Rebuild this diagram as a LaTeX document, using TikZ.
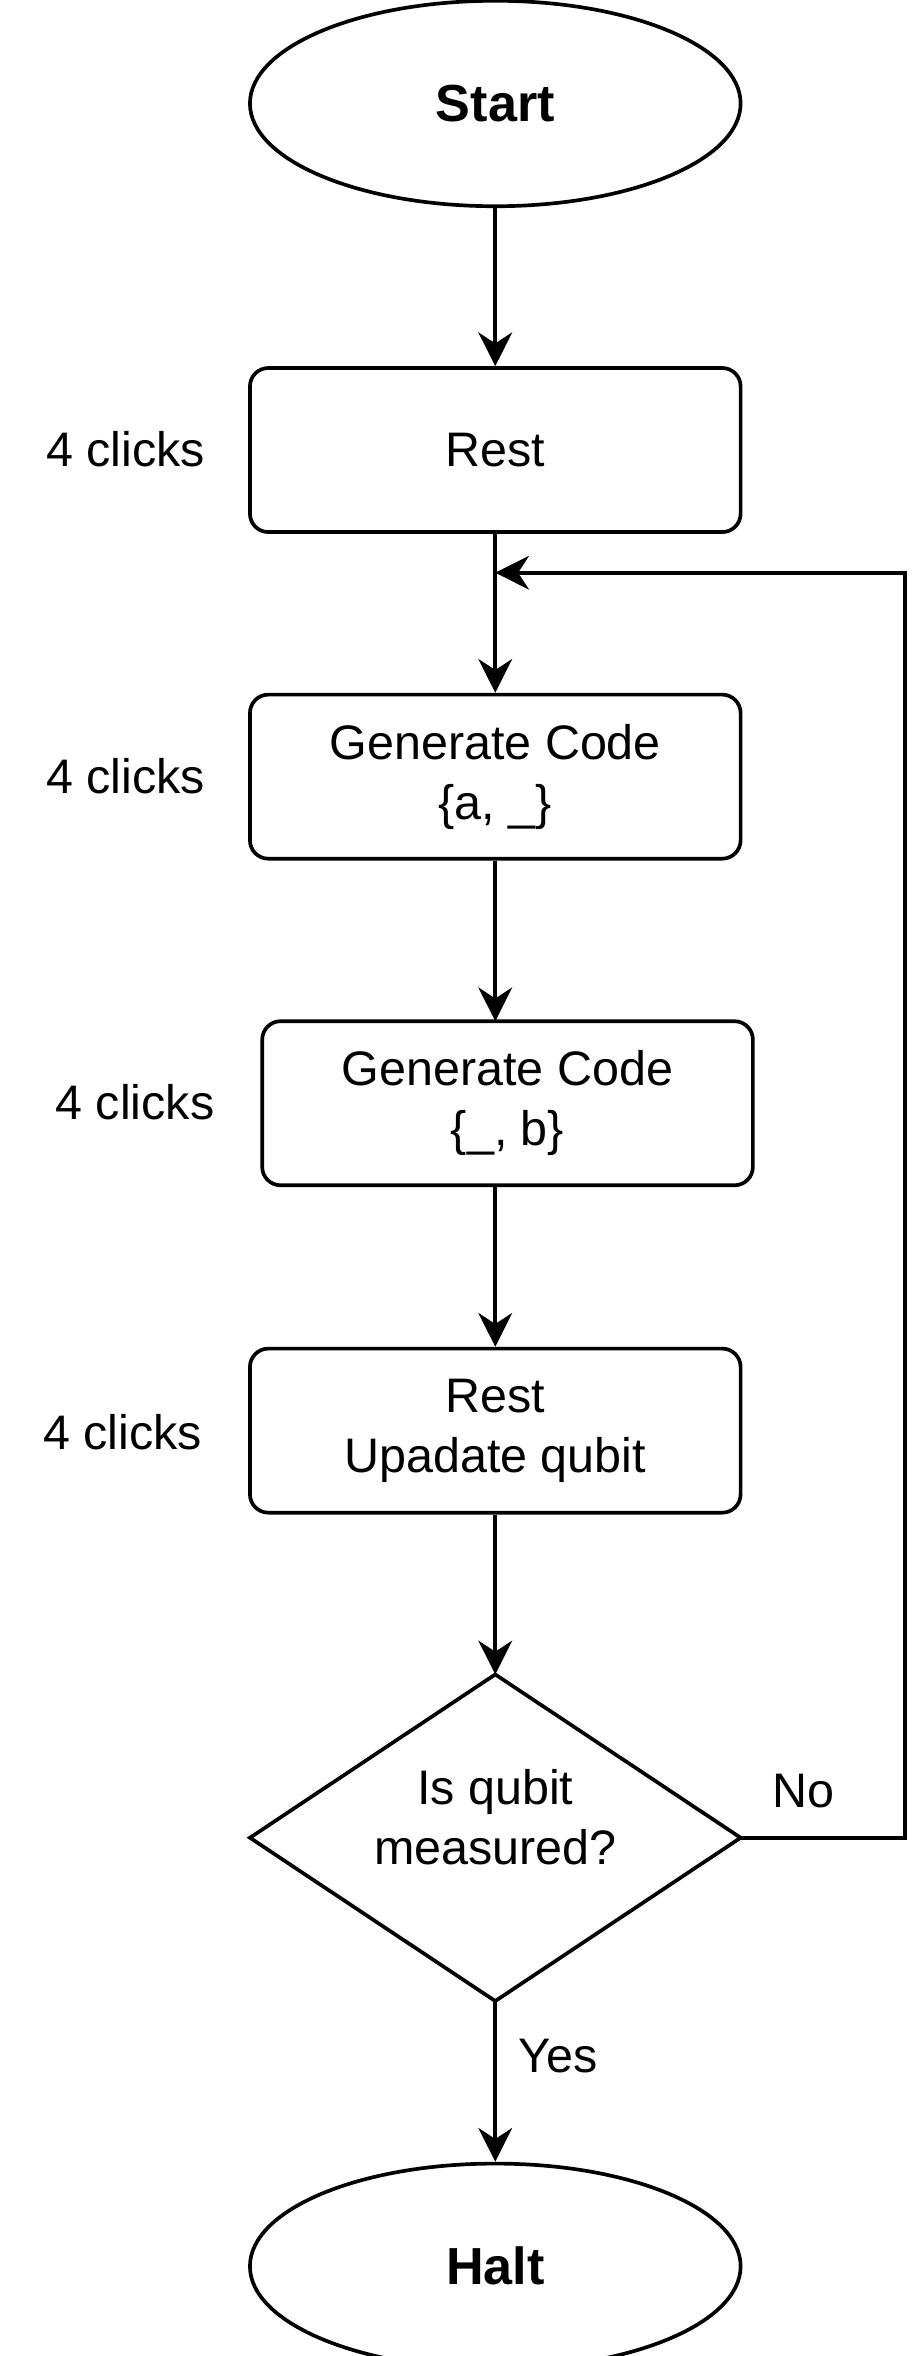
\documentclass[tikz,border=0pt]{standalone}
\usepackage{fontspec}
\setmainfont{Liberation Sans}
\usetikzlibrary{shapes.geometric,arrows.meta}
\begin{document}
\begin{tikzpicture}[x=0.5pt,y=-0.5pt,
  every node/.style={font=\fontsize{15.8}{19.5}\selectfont, align=center},
  box/.style={draw, line width=1.2pt, rounded corners=6pt, minimum width=160pt, minimum height=53.5pt, inner sep=0pt},
  oval/.style={draw, line width=1.2pt, ellipse, minimum width=160pt, minimum height=67pt, inner sep=0pt},
  arr/.style={line width=1.2pt, -{Stealth[length=11pt,width=11pt]}},
  lab/.style={font=\fontsize{15.8}{19.5}\selectfont}]
\useasboundingbox (0,0) rectangle (600,1536.5);
\node[oval,font=\fontsize{17}{20}\selectfont\bfseries] (start) at (323,67.5) {Start};
\node[box] (rest) at (323,293.5) {Rest};
\node[box] (g1) at (323,506.5) {Generate Code\\\{a, \_\}};
\node[box] (g2) at (331,719.5) {Generate Code\\\{\_, b\}};
\node[box] (ru) at (323,933) {Rest\\Upadate qubit};
\coordinate (dl) at (163,1198.5);
\coordinate (dt) at (323,1092);
\coordinate (dr) at (483,1198.5);
\coordinate (db) at (323,1305);
\draw[line width=1.2pt] (dl) -- (dt) -- (dr) -- (db) -- cycle;
\node (dtext) at (323,1185) {Is qubit\\measured?};
\node[oval,font=\fontsize{17}{20}\selectfont\bfseries] (halt) at (323,1478) {Halt};
\node[lab] (c1) at (82,293) {4 clicks};
\node[lab] (c2) at (82,506) {4 clicks};
\node[lab] (c3) at (88,719) {4 clicks};
\node[lab] (c4) at (80,934) {4 clicks};
\node[lab] (no) at (524,1168) {No};
\node[lab] (yes) at (364,1341) {Yes};
\draw[arr] (start) -- (rest);
\draw[arr] (rest) -- (g1);
\draw[arr] (g1) -- (323,666);
\draw[arr] (323,773) -- (ru);
\draw[arr] (ru) -- (dt);
\draw[arr] (db) -- (halt);
\coordinate (fb) at (323,373.5);
\draw[arr] (dr) -- (590,1198.5) -- (590,373.5) -- (fb);
\end{tikzpicture}
\end{document}
